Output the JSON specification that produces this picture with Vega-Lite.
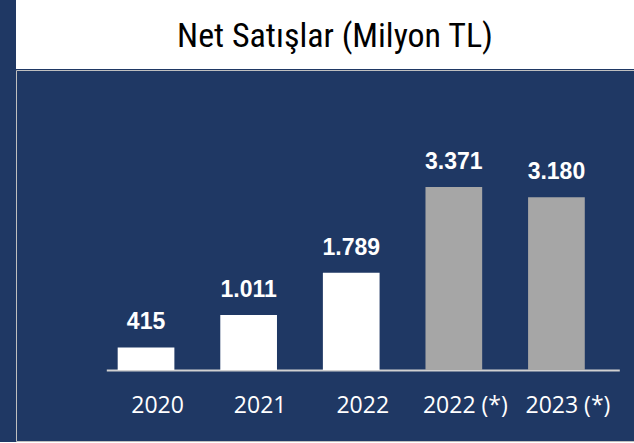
{
  "$schema": "https://vega.github.io/schema/vega-lite/v6.json",
  "background": "#1f3864",
  "padding": {"left": 15, "top": 0, "right": 0, "bottom": 0},
  "spacing": 0,
  "config": {"concat": {"spacing": 0}},
  "vconcat": [
    {
      "width": 619,
      "height": 69,
      "view": {"fill": "white", "stroke": null},
      "data": {"values": [{"t": "Net Satışlar (Milyon TL)"}]},
      "mark": {
        "type": "text",
        "font": "Roboto Condensed",
        "fontSize": 34,
        "color": "black",
        "align": "center",
        "baseline": "alphabetic",
        "dx": 9.5,
        "dy": 12
      },
      "encoding": {"text": {"field": "t"}}
    },
    {
      "width": 619,
      "height": 371,
      "view": {"stroke": "#bfbfbf", "strokeWidth": 1, "fill": null},
      "data": {
        "values": [
          {"year": "2020", "value": 415, "label": "415", "kind": "actual"},
          {"year": "2021", "value": 1011, "label": "1.011", "kind": "actual"},
          {"year": "2022", "value": 1789, "label": "1.789", "kind": "actual"},
          {"year": "2022 (*)", "value": 3371, "label": "3.371", "kind": "restated"},
          {"year": "2023 (*)", "value": 3180, "label": "3.180", "kind": "restated"}
        ]
      },
      "encoding": {
        "x": {
          "field": "year",
          "type": "nominal",
          "sort": null,
          "scale": {"range": [90.3, 603.3], "paddingInner": 0.4474, "paddingOuter": 0.2237, "align": 0.248},
          "axis": {
            "title": null,
            "offset": -71,
            "domainColor": "#d0d0d0",
            "domainWidth": 2,
            "ticks": false,
            "tickSize": 0,
            "labelAngle": 0,
            "labelColor": "white",
            "labelFont": "Open Sans",
            "labelFontSize": 23,
            "labelBaseline": "alphabetic",
            "labelPadding": 42,
            "labelOffset": 11.5,
            "grid": false
          }
        },
        "y": {
          "field": "value",
          "type": "quantitative",
          "scale": {"domain": [0, 5525], "range": [300, 0], "nice": false, "zero": true},
          "axis": null
        }
      },
      "layer": [
        {
          "mark": {"type": "bar"},
          "encoding": {
            "color": {
              "field": "kind",
              "type": "nominal",
              "scale": {"domain": ["actual", "restated"], "range": ["#ffffff", "#a6a6a6"]},
              "legend": null
            }
          }
        },
        {
          "mark": {
            "type": "text",
            "font": "Liberation Sans, Arial, sans-serif",
            "fontWeight": "bold",
            "fontSize": 23,
            "color": "white",
            "align": "center",
            "baseline": "alphabetic",
            "dy": -18
          },
          "encoding": {"text": {"field": "label"}}
        }
      ]
    }
  ]
}
